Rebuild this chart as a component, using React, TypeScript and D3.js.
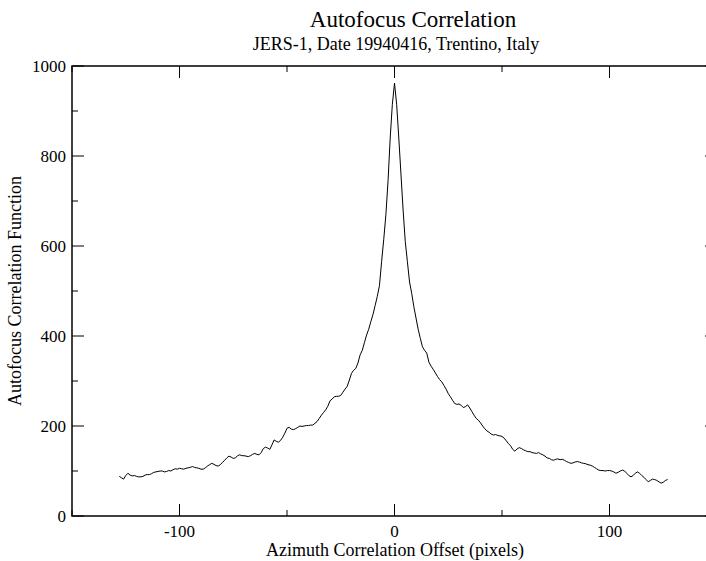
import React from "react";
import * as d3 from "d3";

const title = "Autofocus Correlation";
const subtitle = "JERS-1, Date 19940416, Trentino, Italy";
const xLabel = "Azimuth Correlation Offset (pixels)";
const yLabel = "Autofocus Correlation Function";

const xStart = -128;
const values: number[] = [
  88, 85, 82, 90, 95, 91, 89, 90, 88, 87, 87, 88, 91, 92, 92, 94, 97, 98, 99, 100,
  100, 98, 99, 101, 100, 103, 105, 104, 106, 105, 104, 106, 107, 108, 110, 108, 107, 106, 104, 104,
  107, 111, 114, 117, 115, 112, 111, 114, 119, 124, 129, 133, 131, 128, 129, 134, 136, 134, 134, 133,
  132, 134, 137, 139, 137, 136, 141, 150, 153, 151, 148, 158, 169, 166, 164, 168, 175, 184, 195, 197,
  193, 192, 194, 197, 200, 199, 200, 201, 201, 202, 202, 206, 210, 217, 224, 230, 236, 244, 256, 260,
  265, 266, 266, 268, 275, 282, 288, 302, 317, 324, 328, 340, 358, 368, 385, 402, 415, 432, 448, 468,
  488, 512, 565, 615, 670, 745, 840, 915,
  962,
  915, 840, 760, 680, 610, 565, 520, 495, 465, 440, 415, 395, 376, 368, 362, 342, 333, 326, 318, 310,
  303, 298, 290, 282, 272, 265, 257, 250, 248, 249, 246, 241, 243, 247, 240, 232, 224, 217, 213, 207,
  200, 194, 189, 186, 182, 180, 181, 179, 178, 177, 173, 167, 161, 156, 148, 144, 149, 152, 150, 147,
  145, 143, 143, 141, 140, 139, 141, 138, 136, 133, 129, 128, 125, 124, 126, 127, 125, 126, 124, 121,
  119, 117, 118, 120, 121, 120, 118, 117, 116, 114, 113, 111, 108, 105, 102, 101, 101, 100, 101, 101,
  100, 98, 95, 97, 100, 102, 100, 95, 90, 87, 90, 95, 98, 95, 90, 86, 81, 76, 79, 82,
  81, 79, 76, 73, 75, 79, 81,
];

const xMajorTicks = [-100, 0, 100];
const xMinorTicks = [-150, -50, 50, 150];
const yMajorTicks = [0, 200, 400, 600, 800, 1000];
const yMinorTicks = [100, 300, 500, 700, 900];

const W = 706;
const H = 561;
const left = 72;
const right = 717;
const top = 66;
const bottom = 516;

export default function App() {
  const x = d3.scaleLinear().domain([-150, 150]).range([left, right]);
  const y = d3.scaleLinear().domain([0, 1000]).range([bottom, top]);
  const pts: [number, number][] = values.map((v, i) => [xStart + i, v]);
  const line = d3
    .line<[number, number]>()
    .x((d) => x(d[0]))
    .y((d) => y(d[1]));
  const font = "'Liberation Serif', 'Times New Roman', serif";
  const major = 12;
  const minor = 6;
  return (
    <svg
      width={W}
      height={H}
      style={{ position: "absolute", left: 0, top: 0, background: "#fff" }}
      fontFamily={font}
    >
      <rect x={0} y={0} width={W} height={H} fill="#fff" />
      <text x={413} y={27} textAnchor="middle" fontSize={23}>
        {title}
      </text>
      <text x={396} y={50} textAnchor="middle" fontSize={18}>
        {subtitle}
      </text>
      <g stroke="#000" strokeWidth={1}>
        {xMajorTicks.map((t) => (
          <g key={"xm" + t}>
            <line x1={x(t)} x2={x(t)} y1={bottom} y2={bottom - major} />
            <line x1={x(t)} x2={x(t)} y1={top} y2={top + major} />
          </g>
        ))}
        {xMinorTicks.map((t) => (
          <g key={"xn" + t}>
            <line x1={x(t)} x2={x(t)} y1={bottom} y2={bottom - minor} />
            <line x1={x(t)} x2={x(t)} y1={top} y2={top + minor} />
          </g>
        ))}
        {yMajorTicks.map((t) => (
          <g key={"ym" + t}>
            <line x1={left} x2={left + major} y1={y(t)} y2={y(t)} />
            <line x1={right} x2={right - major} y1={y(t)} y2={y(t)} />
          </g>
        ))}
        {yMinorTicks.map((t) => (
          <g key={"yn" + t}>
            <line x1={left} x2={left + minor} y1={y(t)} y2={y(t)} />
            <line x1={right} x2={right - minor} y1={y(t)} y2={y(t)} />
          </g>
        ))}
      </g>
      <path d={line(pts) || ""} fill="none" stroke="#000" strokeWidth={1} />
      <rect
        x={left}
        y={top}
        width={right - left}
        height={bottom - top}
        fill="none"
        stroke="#000"
        strokeWidth={1.5}
      />
      {xMajorTicks.map((t) => (
        <text key={"xl" + t} x={x(t)} y={bottom + 21} textAnchor="middle" fontSize={17}>
          {t}
        </text>
      ))}
      {yMajorTicks.map((t) => (
        <text key={"yl" + t} x={left - 6} y={y(t) + 6} textAnchor="end" fontSize={17}>
          {t}
        </text>
      ))}
      <text x={395} y={556} textAnchor="middle" fontSize={18}>
        {xLabel}
      </text>
      <text
        transform={`translate(21, ${(top + bottom) / 2}) rotate(-90)`}
        textAnchor="middle"
        fontSize={18}
      >
        {yLabel}
      </text>
    </svg>
  );
}
